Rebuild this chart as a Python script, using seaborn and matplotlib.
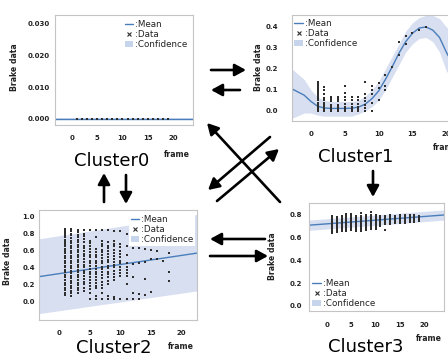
import matplotlib
matplotlib.use("Agg")
import matplotlib.pyplot as plt
import seaborn as sns
import pandas as pd
from matplotlib.lines import Line2D
from matplotlib.patches import Patch, FancyArrowPatch

# ---------------- data ----------------
tick_frames = [0, 5, 10, 15, 20]

# Cluster0
c0_frames = [1, 2, 3, 4, 5, 6, 7, 8, 9, 10, 11, 12, 13, 14, 15, 16, 17, 18, 19]
c0_values = [[0.0]] * 19
c0_fit_frame = [-3.4, 24.0]
c0_fit_mean = [0.0, 0.0]
c0_fit_upper = [0.0002, 0.0002]
c0_fit_lower = [-0.0002, -0.0002]
c0_yticks = [0.0, 0.010, 0.020, 0.030]

# Cluster1
c1_frames = [1, 2, 3, 4, 5, 6, 7, 8, 9, 10, 11, 12, 13, 14, 15, 16, 17]
c1_values = [
    [0.0, 0.01, 0.02, 0.03, 0.04, 0.05, 0.06, 0.07, 0.08, 0.09, 0.10, 0.11, 0.12, 0.13, 0.14],
    [0.0, 0.01, 0.02, 0.03, 0.04, 0.05, 0.06, 0.08, 0.10, 0.115],
    [0.0, 0.01, 0.02, 0.03, 0.045, 0.055, 0.067],
    [0.0, 0.01, 0.02, 0.03, 0.045, 0.055, 0.067],
    [0.0, 0.01, 0.02, 0.035, 0.05, 0.065, 0.085, 0.12],
    [0.0, 0.01, 0.02, 0.035, 0.05, 0.065],
    [0.0, 0.01, 0.02, 0.035, 0.05, 0.065],
    [0.0, 0.015, 0.03, 0.045, 0.06, 0.08, 0.14],
    [0.0, 0.04, 0.08, 0.10, 0.12],
    [0.05, 0.11, 0.135],
    [0.10, 0.12, 0.17],
    [0.21],
    [0.265, 0.33],
    [0.32, 0.355],
    [0.37],
    [0.385],
    [0.40],
]
c1_fit_frame = [-2.8, -1, 0, 1, 2, 3, 4, 5, 6, 7, 8, 9, 10, 11, 12, 13, 14, 15, 16, 17, 18, 19, 20, 21, 22]
c1_fit_mean = [0.105, 0.075, 0.045, 0.022, 0.014, 0.012, 0.012, 0.012, 0.013, 0.018, 0.032, 0.058,
               0.095, 0.15, 0.21, 0.275, 0.33, 0.37, 0.395, 0.40, 0.385, 0.35, 0.28, 0.22, 0.17]
c1_fit_upper = [0.20, 0.15, 0.10, 0.065, 0.05, 0.045, 0.045, 0.045, 0.045, 0.05, 0.07, 0.10,
                0.14, 0.20, 0.26, 0.32, 0.38, 0.42, 0.445, 0.455, 0.455, 0.44, 0.40, 0.37, 0.34]
c1_fit_lower = [-0.035, -0.01, -0.01, -0.02, -0.025, -0.025, -0.025, -0.025, -0.025, -0.015, 0.0,
                0.02, 0.05, 0.10, 0.16, 0.22, 0.28, 0.32, 0.345, 0.35, 0.33, 0.28, 0.19, 0.15, 0.12]
c1_yticks = [0.0, 0.1, 0.2, 0.3, 0.4]

# Cluster2
c2_frames = [1, 2, 3, 4, 5, 6, 7, 8, 9, 10, 11, 12, 13, 14, 15, 16, 17, 18]
c2_values = [
    [0.86, 0.83, 0.81, 0.78, 0.76, 0.73, 0.70, 0.68, 0.65, 0.62, 0.60, 0.57, 0.54, 0.51, 0.48,
     0.45, 0.42, 0.40, 0.37, 0.34, 0.31, 0.28, 0.25, 0.22, 0.19, 0.16, 0.13, 0.10, 0.07],
    [0.86, 0.83, 0.80, 0.78, 0.75, 0.72, 0.69, 0.66, 0.63, 0.60, 0.57, 0.54, 0.51, 0.48, 0.45,
     0.42, 0.39, 0.36, 0.33, 0.30, 0.27, 0.24, 0.21, 0.18, 0.15, 0.12, 0.09, 0.06],
    [0.85, 0.82, 0.79, 0.76, 0.73, 0.70, 0.67, 0.64, 0.61, 0.58, 0.55, 0.52, 0.49, 0.46, 0.43,
     0.40, 0.37, 0.34, 0.31, 0.28, 0.25, 0.22, 0.19, 0.16, 0.13, 0.10],
    [0.84, 0.80, 0.77, 0.74, 0.70, 0.66, 0.63, 0.60, 0.56, 0.53, 0.50, 0.46, 0.43, 0.40, 0.36,
     0.33, 0.30, 0.26, 0.23, 0.20, 0.16, 0.12],
    [0.84, 0.72, 0.69, 0.66, 0.62, 0.58, 0.55, 0.52, 0.48, 0.45, 0.42, 0.38, 0.35, 0.32, 0.28,
     0.25, 0.22, 0.18, 0.14, 0.10, 0.02],
    [0.84, 0.76, 0.62, 0.58, 0.55, 0.52, 0.48, 0.45, 0.42, 0.38, 0.35, 0.32, 0.28, 0.25, 0.21,
     0.18, 0.15, 0.06, 0.02],
    [0.84, 0.72, 0.68, 0.65, 0.61, 0.58, 0.55, 0.51, 0.48, 0.45, 0.41, 0.38, 0.34, 0.31, 0.27,
     0.23, 0.19, 0.15, 0.10, 0.02],
    [0.84, 0.70, 0.66, 0.63, 0.59, 0.56, 0.52, 0.49, 0.46, 0.42, 0.39, 0.35, 0.32, 0.28, 0.24,
     0.20, 0.06, 0.02],
    [0.83, 0.72, 0.68, 0.65, 0.61, 0.57, 0.54, 0.50, 0.47, 0.43, 0.40, 0.36, 0.32, 0.28, 0.25,
     0.05, 0.02],
    [0.83, 0.68, 0.64, 0.60, 0.56, 0.52, 0.48, 0.45, 0.41, 0.37, 0.33, 0.30, 0.02],
    [0.80, 0.65, 0.55, 0.45, 0.41, 0.37, 0.33, 0.30, 0.20, 0.02],
    [0.63, 0.44, 0.29, 0.09, 0.02],
    [0.63, 0.45, 0.08, 0.02],
    [0.62, 0.47, 0.26, 0.07],
    [0.61, 0.50, 0.11],
    [0.60, 0.50],
    [0.48],
    [0.57, 0.34, 0.24],
]
c2_fit_frame = [-3.3, 22.5]
c2_fit_mean = [0.29, 0.57]
c2_fit_upper = [0.74, 1.03]
c2_fit_lower = [-0.15, 0.12]
c2_yticks = [0.0, 0.2, 0.4, 0.6, 0.8, 1.0]

# Cluster3
c3_frames = [1, 2, 3, 4, 5, 6, 7, 8, 9, 10, 11, 12, 13, 14, 15, 16, 17, 18, 19]
c3_values = [
    [0.64, 0.655, 0.67, 0.685, 0.70, 0.715, 0.73, 0.745, 0.76, 0.775, 0.79],
    [0.65, 0.665, 0.68, 0.695, 0.71, 0.725, 0.74, 0.755, 0.77, 0.785],
    [0.66, 0.675, 0.69, 0.705, 0.72, 0.735, 0.75, 0.765, 0.78, 0.795],
    [0.66, 0.675, 0.69, 0.705, 0.72, 0.735, 0.75, 0.765, 0.78, 0.795, 0.81],
    [0.67, 0.685, 0.70, 0.715, 0.73, 0.745, 0.76, 0.775, 0.79, 0.805],
    [0.66, 0.675, 0.69, 0.705, 0.72, 0.735, 0.75, 0.765, 0.78, 0.795],
    [0.66, 0.675, 0.69, 0.705, 0.72, 0.735, 0.75, 0.765, 0.78, 0.795, 0.82],
    [0.67, 0.685, 0.70, 0.715, 0.73, 0.745, 0.76, 0.775, 0.79, 0.80],
    [0.68, 0.695, 0.71, 0.725, 0.74, 0.755, 0.77, 0.785, 0.80, 0.825],
    [0.68, 0.695, 0.71, 0.725, 0.74, 0.755, 0.77, 0.785, 0.80],
    [0.70, 0.715, 0.73, 0.745, 0.76, 0.775, 0.79],
    [0.67, 0.72, 0.735, 0.75, 0.765, 0.78, 0.795],
    [0.72, 0.735, 0.75, 0.765, 0.78, 0.80],
    [0.73, 0.745, 0.76, 0.775, 0.79],
    [0.73, 0.745, 0.76, 0.775, 0.79, 0.80],
    [0.73, 0.745, 0.76, 0.775, 0.79, 0.80],
    [0.74, 0.755, 0.77, 0.785, 0.80],
    [0.74, 0.755, 0.77, 0.785, 0.80],
    [0.75, 0.765, 0.78, 0.795],
]
c3_fit_frame = [-3.7, 24.2]
c3_fit_mean = [0.71, 0.80]
c3_fit_upper = [0.755, 0.845]
c3_fit_lower = [0.665, 0.755]
c3_yticks = [0.0, 0.2, 0.4, 0.6, 0.8]

cluster_names = ["Cluster0", "Cluster1", "Cluster2", "Cluster3"]
legend_labels = [":Mean", ":Data", ":Confidence"]

# ---------------- styling ----------------
sns.set_theme(style="white")
plt.rcParams["font.family"] = ["DejaVu Sans"]

W, H = 448, 356
fig = plt.figure(figsize=(W / 100, H / 100), dpi=100)
fig.patch.set_facecolor("white")

MEAN_C = "#4a7ebb"
BAND_C = "#d7dff0"
PT_C = "#2e2e2e"


def long_df(frames, values):
    rows = [(f, v) for f, vs in zip(frames, values) for v in vs]
    return pd.DataFrame(rows, columns=["frame", "brake"])


def px_to_axes(l, t, r, b, x, y):
    return ((x - l) / (r - l), (b - y) / (b - t))


def panel(box, xlim, ylim, frames, values, fit_f, fit_m, fit_u, fit_l, yticks, yfmt,
          ylab_px, xlab_px, leg_loc, leg_px, leg_white, ypad, xpad, tick_fs, name, name_px):
    l, t, r, b = box
    ax = fig.add_axes([l / W, 1 - b / H, (r - l) / W, (b - t) / H])
    ax.fill_between(fit_f, fit_l, fit_u, color=BAND_C, linewidth=0, zorder=1)
    df = long_df(frames, values)
    sns.scatterplot(data=df, x="frame", y="brake", marker="s", s=4, color=PT_C,
                    linewidth=0, ax=ax, zorder=3)
    fit = pd.DataFrame({"frame": fit_f, "mean": fit_m})
    sns.lineplot(data=fit, x="frame", y="mean", color=MEAN_C, lw=1.0, ax=ax, zorder=2)
    ax.set_xlim(*xlim)
    ax.set_ylim(*ylim)
    ax.set_xticks(tick_frames)
    ax.set_xticklabels([str(v) for v in tick_frames])
    ax.set_yticks(yticks)
    ax.set_yticklabels([yfmt.format(v) for v in yticks])
    ax.tick_params(axis="both", length=0, labelsize=tick_fs, colors="#222222")
    ax.tick_params(axis="y", pad=ypad)
    ax.tick_params(axis="x", pad=xpad)
    for lab in ax.get_xticklabels() + ax.get_yticklabels():
        lab.set_fontweight("bold")
    for sp in ax.spines.values():
        sp.set_color("#c4c4c4")
        sp.set_linewidth(0.8)
    ax.set_ylabel("Brake data", fontsize=5.6, fontweight="bold", color="#222222")
    ax.yaxis.set_label_coords(*px_to_axes(l, t, r, b, *ylab_px))
    ax.set_xlabel("frame", fontsize=5.6, fontweight="bold", color="#222222")
    ax.xaxis.set_label_coords(*px_to_axes(l, t, r, b, *xlab_px))
    handles = [
        Line2D([], [], color=MEAN_C, lw=1.0),
        Line2D([], [], color=PT_C, marker="x", ls="none", markersize=3, mew=0.8),
        Patch(facecolor="#c6d4ec", edgecolor="none"),
    ]
    leg = ax.legend(handles, legend_labels, loc=leg_loc,
                    bbox_to_anchor=px_to_axes(l, t, r, b, *leg_px),
                    fontsize=6.3, handlelength=1.0, handleheight=0.7, handletextpad=0.25,
                    labelspacing=0.12, borderpad=0.15, borderaxespad=0,
                    frameon=leg_white, facecolor="white", edgecolor="none", framealpha=1.0,
                    fancybox=False)
    for txt in leg.get_texts():
        txt.set_color("#222222")
    fig.text(name_px[0] / W, 1 - name_px[1] / H, name, fontsize=13, ha="center",
             va="center", color="black")
    return ax


panel((55, 15, 193, 125), (-3.4, 24.0), (-0.0019, 0.0328), c0_frames, c0_values,
      c0_fit_frame, c0_fit_mean, c0_fit_upper, c0_fit_lower, c0_yticks, "{:.3f}",
      (19, 67), (177, 150), "upper right", (189, 19), False, 4, 7, 5.0,
      cluster_names[0], (112, 161))

panel((292, 15, 470, 121), (-2.8, 23.5), (-0.048, 0.457), c1_frames, c1_values,
      c1_fit_frame, c1_fit_mean, c1_fit_upper, c1_fit_lower, c1_yticks, "{:.1f}",
      (263, 67), (446, 143), "upper left", (293, 18), False, 10, 7, 5.0,
      cluster_names[1], (356, 157))

panel((39, 210, 197, 320), (-3.3, 22.5), (-0.226, 1.083), c2_frames, c2_values,
      c2_fit_frame, c2_fit_mean, c2_fit_upper, c2_fit_lower, c2_yticks, "{:.1f}",
      (12, 261), (181, 342), "upper right", (195, 214), True, 3, 7, 5.0,
      cluster_names[2], (114, 348))

panel((309, 203, 444, 311), (-3.7, 24.1), (-0.044, 0.905), c3_frames, c3_values,
      c3_fit_frame, c3_fit_mean, c3_fit_upper, c3_fit_lower, c3_yticks, "{:.1f}",
      (277, 256), (429, 334), "lower left", (311, 309), False, 5, 8, 5.0,
      cluster_names[3], (366, 347))

# ---------------- transition arrows (pixel coords: tail -> head) ----------------
arrows = [
    ((211, 70), (246, 70)),    # 0 -> 1
    ((240, 90), (211, 90)),    # 1 -> 0
    ((104, 202), (104, 173)),  # 2 -> 0
    ((126, 175), (126, 204)),  # 0 -> 2
    ((373, 171), (373, 197)),  # 1 -> 3
    ((265, 239), (210, 239)),  # 3 -> 2
    ((210, 256), (268, 256)),  # 2 -> 3
    ((280, 202), (207, 123)),  # 3 -> 0
    ((270, 137), (208, 190)),  # 1 -> 2
    ((217, 201), (279, 149)),  # 2 -> 1
]
for (x0, y0), (x1, y1) in arrows:
    fa = FancyArrowPatch((x0 / W, 1 - y0 / H), (x1 / W, 1 - y1 / H),
                         transform=fig.transFigure,
                         arrowstyle="-|>,head_length=0.55,head_width=0.3",
                         mutation_scale=12, lw=1.9, color="black",
                         shrinkA=0, shrinkB=0)
    fig.add_artist(fa)

fig.savefig("out.png", dpi=100)
